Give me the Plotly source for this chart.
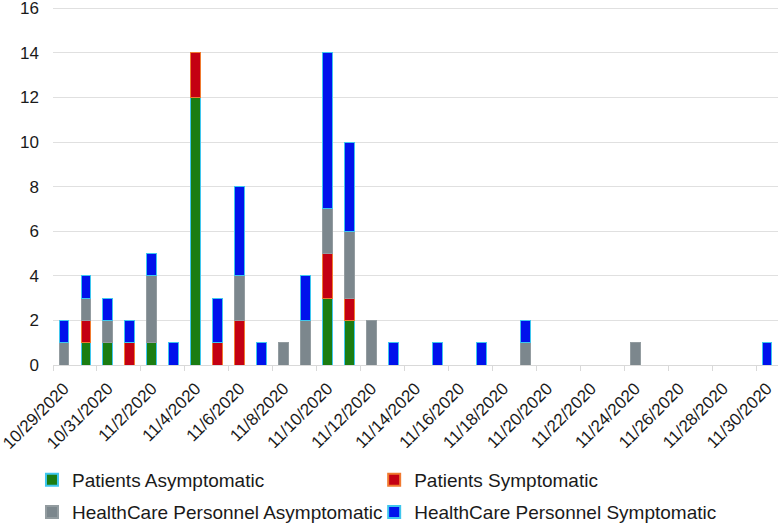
import plotly.graph_objects as go
import pandas as pd

dates = pd.date_range("2020-10-29", "2020-11-30", freq="D").strftime("%Y-%m-%d").tolist()

# values per day, 10/29/2020 .. 11/30/2020
patients_asym = [0,1,1,0,1,0,12,0,0,0,0,0,3,2,0,0,0,0,0,0,0,0,0,0,0,0,0,0,0,0,0,0,0]
patients_sym  = [0,1,0,1,0,0,2,1,2,0,0,0,2,1,0,0,0,0,0,0,0,0,0,0,0,0,0,0,0,0,0,0,0]
hcp_asym      = [1,1,1,0,3,0,0,0,2,0,1,2,2,3,2,0,0,0,0,0,0,1,0,0,0,0,1,0,0,0,0,0,0]
hcp_sym       = [1,1,1,1,1,1,0,2,4,1,0,2,7,4,0,1,0,1,0,1,0,1,0,0,0,0,0,0,0,0,0,0,1]

tick_dates = dates[::2]
tick_labels = [pd.Timestamp(d).strftime("%-m/%-d/%Y") for d in tick_dates]

series = [
    ("Patients Asymptomatic", patients_asym, "#1b7d12", "#3fc6ee", "legend"),
    ("Patients Symptomatic", patients_sym, "#c40012", "#f07a30", "legend2"),
    ("HealthCare Personnel Asymptomatic", hcp_asym, "#7c878d", "#939ca0", "legend3"),
    ("HealthCare Personnel Symptomatic", hcp_sym, "#0012ec", "#3fc6ee", "legend4"),
]

fig = go.Figure()
for name, vals, fill, edge, lg in series:
    fig.add_trace(go.Bar(
        x=dates, y=[v if v else None for v in vals], name=name, legend=lg,
        marker=dict(color=fill, line=dict(color=edge, width=1)),
        width=0.45 * 86400000,
    ))

legend_common = dict(
    orientation="v", xanchor="left", yanchor="middle",
    font=dict(size=19, color="#1a1a1a"),
    itemsizing="constant",
    bgcolor="rgba(0,0,0,0)",
)

col1_x, col2_x = -0.029, 0.443
row1_y, row2_y = -0.321, -0.411

fig.update_layout(
    barmode="stack",
    width=780, height=523,
    margin=dict(l=53, r=2, t=7, b=158, autoexpand=False),
    paper_bgcolor="white", plot_bgcolor="white",
    font=dict(family="Liberation Sans, Arial, sans-serif", color="#1a1a1a"),
    showlegend=True,
    legend=dict(x=col1_x, y=row1_y, **legend_common),
    legend2=dict(x=col2_x, y=row1_y, **legend_common),
    legend3=dict(x=col1_x, y=row2_y, **legend_common),
    legend4=dict(x=col2_x, y=row2_y, **legend_common),
)

fig.update_xaxes(
    type="date", automargin=False,
    range=["2020-10-28 12:00", "2020-11-30 12:00"],
    tickvals=tick_dates, ticktext=tick_labels,
    tickangle=-45, tickfont=dict(size=17, color="#1a1a1a"),
    ticks="", showgrid=False, ticklabelstandoff=6, ticklabeloverflow="allow",
    showline=True, linecolor="#d9d9d9", linewidth=1,
    minor=dict(ticks="outside", tick0="2020-10-28 12:00", dtick=2 * 86400000,
               ticklen=5, tickcolor="#d9d9d9", showgrid=False),
)
fig.update_yaxes(
    range=[0, 16.06], dtick=2, automargin=False,
    showgrid=True, gridcolor="#e0e0e0", gridwidth=1,
    zeroline=False, showline=False,
    tickfont=dict(size=17, color="#1a1a1a"),
    ticks="", ticklabelstandoff=13, ticklabeloverflow="allow",
)

fig.write_html("out.html", config={"displayModeBar": False},
               post_script="document.body.style.margin='0px';")
